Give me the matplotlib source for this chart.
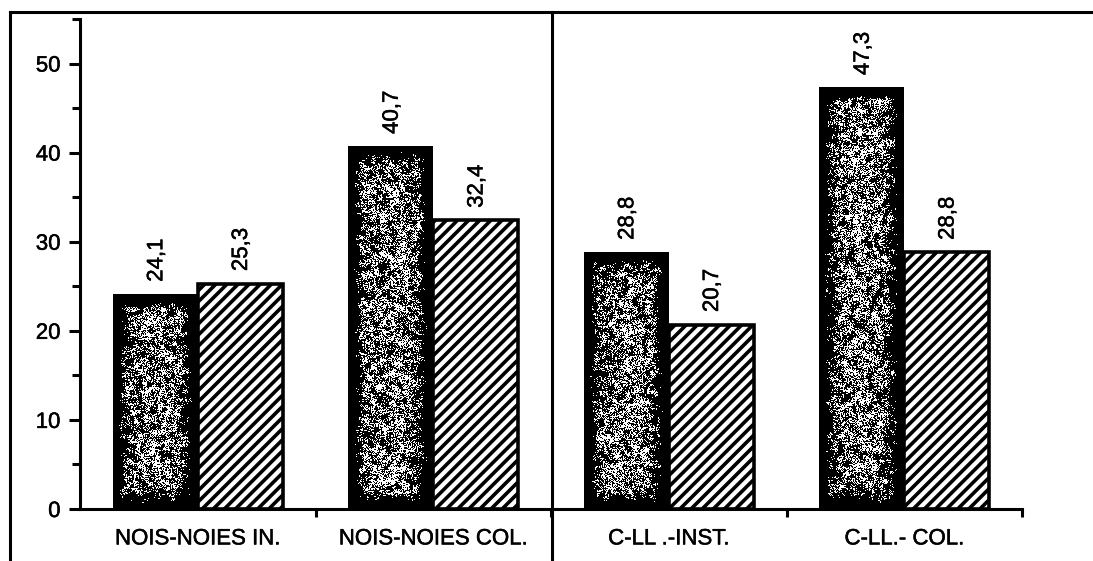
import numpy as np
import matplotlib
matplotlib.use("Agg")
import matplotlib.pyplot as plt
import matplotlib.patheffects as pe
from matplotlib.patches import Rectangle
from matplotlib.lines import Line2D

# ---- data ----
categories = ["NOIS-NOIES IN.", "NOIS-NOIES COL.", "C-LL .-INST.", "C-LL.- COL."]
series_dark = [24.1, 40.7, 28.8, 47.3]
series_hatch = [25.3, 32.4, 20.7, 28.8]
y_major_ticks = [0, 10, 20, 30, 40, 50]

plt.rcParams["font.family"] = ["Liberation Sans", "DejaVu Sans"]
plt.rcParams["hatch.linewidth"] = 2.6

W, H, DPI = 1093, 561, 100
fig = plt.figure(figsize=(W / DPI, H / DPI), dpi=DPI)
fig.patch.set_facecolor("white")

ax_l, ax_r, ax_b, ax_t = 80, 1022, 509, 19
ax = fig.add_axes([ax_l / W, 1 - ax_b / H, (ax_r - ax_l) / W, (ax_b - ax_t) / H])
ax.set_xlim(-0.5, len(categories) - 0.5)
ax.set_ylim(0, 55)

bar_w = 0.36
px_per_x = (ax_r - ax_l) / len(categories)
px_per_y = (ax_b - ax_t) / 55.0

rng = np.random.default_rng(7)
ink = [pe.withStroke(linewidth=0.35, foreground="black")]


def box_blur(a, r):
    k = 2 * r + 1
    p = np.pad(a, r, mode="reflect")
    out = np.zeros_like(a)
    for dy in range(k):
        for dx in range(k):
            out += p[dy:dy + a.shape[0], dx:dx + a.shape[1]]
    return out / (k * k)


def stipple(w_px, h_px):
    """Grainy black/white fill with a solid dark rim."""
    coarse = box_blur(rng.random((h_px, w_px)), 2)
    coarse = (coarse - coarse.mean()) / coarse.std()
    fine = rng.random((h_px, w_px))
    sm = 0.5 + 0.12 * coarse + 0.6 * (fine - 0.5)
    yy, xx = np.mgrid[0:h_px, 0:w_px]
    d_lr = np.minimum(xx, w_px - 1 - xx).astype(float)
    d_tb = np.minimum(yy, h_px - 1 - yy).astype(float)
    d = np.minimum(d_lr, d_tb)
    thr = 0.52 + 0.45 * np.exp(-np.maximum(d - 6, 0) / 7.0)
    img = (sm > thr).astype(float)
    img[d < 6] = 0.0
    return img


for i, (vd, vh) in enumerate(zip(series_dark, series_hatch)):
    # stippled bar (left)
    x0 = i - bar_w
    ax.add_patch(Rectangle((x0, 0), bar_w, vd, facecolor="black",
                           edgecolor="none", zorder=2))
    w_px = int(round(bar_w * px_per_x))
    h_px = int(round(vd * px_per_y))
    ax.imshow(stipple(w_px, h_px), cmap="gray", vmin=0, vmax=1,
              extent=(x0, i, 0, vd), aspect="auto",
              interpolation="nearest", zorder=3)
    # hatched bar (right)
    ax.add_patch(Rectangle((i, 0), bar_w, vh, facecolor="white",
                           edgecolor="black", linewidth=2.6, hatch="///",
                           zorder=4))
    # value labels
    for xc, v in ((i - bar_w / 2, vd), (i + bar_w / 2, vh)):
        ax.annotate(f"{v:.1f}".replace(".", ","), (xc, v),
                    xytext=(1, 9), textcoords="offset points",
                    rotation=90, ha="center", va="bottom", fontsize=16,
                    path_effects=ink)

ax.set_xlim(-0.5, len(categories) - 0.5)
ax.set_ylim(0, 55)

# axes styling
for s in ("top", "right"):
    ax.spines[s].set_visible(False)
ax.spines["left"].set_linewidth(2.2)
ax.spines["bottom"].set_linewidth(2.2)
ax.spines["left"].set_zorder(6)
ax.spines["bottom"].set_zorder(6)

ax.set_yticks(y_major_ticks)
ax.set_yticks(np.arange(5, 56, 10), minor=True)
ax.tick_params(axis="y", which="major", direction="out", length=8,
               width=2.2, labelsize=16, pad=6)
ax.tick_params(axis="y", which="minor", direction="out", length=6,
               width=2.2)

ax.set_xticks(np.arange(0.5, len(categories), 1.0))
ax.set_xticklabels([])
ax.set_xticks(np.arange(len(categories)), minor=True)
ax.set_xticklabels(categories, minor=True)
ax.tick_params(axis="x", which="major", direction="out", length=6,
               width=2.2)
ax.tick_params(axis="x", which="minor", length=0, labelsize=16, pad=14)

for lbl in ax.get_yticklabels() + ax.get_xticklabels(minor=True):
    lbl.set_path_effects(ink)

# outer frame and central divider
lw = 2.2
fig.add_artist(Line2D([10 / W, 1.0], [1 - 12 / H, 1 - 12 / H],
                      color="black", linewidth=lw))
fig.add_artist(Line2D([10 / W, 10 / W], [1 - 12 / H, 0.0],
                      color="black", linewidth=lw))
fig.add_artist(Line2D([552 / W, 552 / W], [1 - 12 / H, 0.0],
                      color="black", linewidth=lw, zorder=10))

fig.savefig("out.png", dpi=DPI, facecolor="white")
